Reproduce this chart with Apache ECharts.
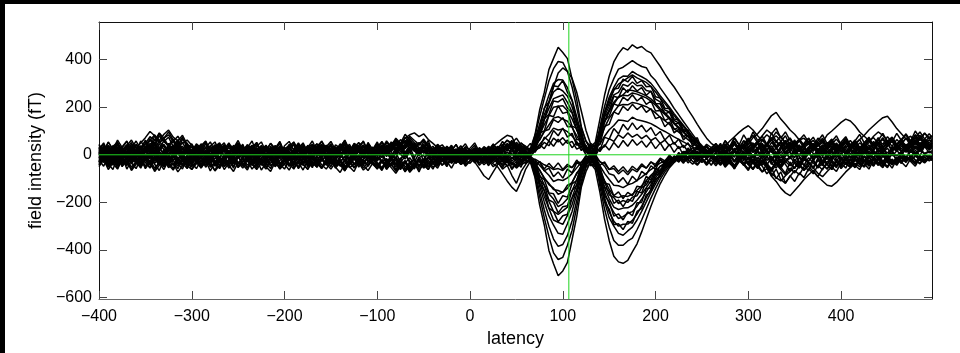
<!DOCTYPE html>
<html><head><meta charset="utf-8">
<script src="https://cdn.jsdelivr.net/npm/echarts@6/dist/echarts.min.js"></script>
<style>html,body{margin:0;padding:0;background:#000;width:960px;height:353px;overflow:hidden}
#c{position:absolute;left:5px;top:4px;width:955px;height:349px;background:#fff}</style>
</head><body><div id="c"></div><script>
// latency (ms)
const latency = [-400,-395,-390,-385,-380,-375,-370,-365,-360,-355,
-350,-345,-340,-335,-330,-325,-320,-315,-310,-305,
-300,-295,-290,-285,-280,-275,-270,-265,-260,-255,
-250,-245,-240,-235,-230,-225,-220,-215,-210,-205,
-200,-195,-190,-185,-180,-175,-170,-165,-160,-155,
-150,-145,-140,-135,-130,-125,-120,-115,-110,-105,
-100,-95,-90,-85,-80,-75,-70,-65,-60,-55,
-50,-45,-40,-35,-30,-25,-20,-15,-10,-5,
0,5,10,15,20,25,30,35,40,45,
50,55,60,65,70,75,80,85,90,95,
100,105,110,115,120,125,130,135,140,145,
150,155,160,165,170,175,180,185,190,195,
200,205,210,215,220,225,230,235,240,245,
250,255,260,265,270,275,280,285,290,295,
300,305,310,315,320,325,330,335,340,345,
350,355,360,365,370,375,380,385,390,395,
400,405,410,415,420,425,430,435,440,445,
450,455,460,465,470,475,480,485,490,495,498];

// field intensity per channel (fT)
const ch01 = [12,-18,25,4,-30,18,36,-8,22,-15, 30,8,42,15,-12,28,10,35,-5,20, -22,14,-30,6,26,-10,18,-28,12,32, 5,-20,24,-8,30,2,-26,16,38,-4, 20,-12,8,34,-18,10,28,-6,22,-24, 6,30,-14,18,-30,12,40,2,-16,24, -8,26,10,-22,32,16,-4,28,44,12, 36,8,-18,20,-6,14,-20,6,16,-10, 8,-12,14,2,-16,18,30,-6,24,40, 18,-4,
30,25,84,188,262,358,405,452,430,404,318,232,118,56,22,-4,-76,-112,-168,-180,-205,-192,-200,-178,-172,-138,-126,-90,-80,-48,-44,-18,-20,-2,-10,5,-8,12,-4,6,-12,
10,28,-6,34,18,42,4,26,-12,30, 20,48,12,-8,36,22,54,6,30,-14, 24,40,8,32,-10,18,46,14,36,2, 28,-6,38,20,50,10,32,-4,26,44, 16,38,22,48,30,52,40, 34];
const ch02 = [-14,10,-32,-6,20,-24,4,-38,-10,16, -20,6,-28,12,-40,-8,18,-16,2,-34, 10,-22,6,-36,-12,20,-30,-4,14,-26, -8,16,-30,2,-44,-14,8,-22,12,-38, -16,4,-34,-10,18,-28,-2,22,-20,-6, -30,-8,14,-24,6,-40,-12,16,-18,2, -26,8,-42,-14,10,-32,-6,12,-20,-48, -18,6,-36,-10,14,-22,2,-12,8,-20, -6,10,-14,4,-22,-8,16,-30,-12,6, -20,4,
-26,-30,-96,-210,-295,-402,-458,-508,-488,-452,-356,-260,-135,-70,-30,12,84,164,204,252,262,296,288,306,290,292,270,266,234,222,188,180,144,134,102,92,60,50,24,20,6,
-12,14,-24,8,-30,2,-18,20,-8,-36, -4,22,-20,10,-34,-6,16,-28,4,-16, 12,-22,6,-40,-10,18,-26,0,24,-14, 8,-30,14,-8,20,-20,4,-34,10,-2, 12,-10,18,2,24,6,16, 10];
const ch03 = [20,44,8,36,52,14,40,28,58,22, 48,76,60,92,70,84,56,78,48,62, 40,18,46,30,54,12,38,24,50,16, 34,10,42,26,-2,36,20,48,14,30, 8,40,22,50,18,34,4,28,44,12, 38,16,46,24,6,30,52,20,36,10, 32,56,26,44,64,38,58,72,50,40, 60,34,20,42,14,28,6,24,10,18, 4,20,-6,12,26,8,30,44,22,56, 40,28,
24,18,80,160,235,310,362,392,388,350,285,198,110,58,34,52,150,250,330,390,425,450,440,462,448,455,438,428,400,372,340,310,285,255,225,190,160,128,98,70,48,
34,22,40,18,46,30,58,44,72,88, 110,138,165,178,150,128,104,86,62,70, 48,60,36,52,28,44,66,40,58,32, 50,24,46,62,38,54,30,48,70,42, 56,36,60,44,68,50,62, 54];
const ch04 = [-30,-8,-46,-20,-56,-14,-38,4,-26,-50, -18,-40,-4,-34,-62,-22,-44,-12,-36,-58, -24,-6,-42,-16,-52,-30,-10,-40,-20,-48, -8,-34,-54,-22,-4,-38,-16,-46,-28,-60, -36,-12,-44,-26,-6,-50,-20,-32,-54,-14, -40,-18,-48,-28,-8,-42,-24,-56,-30,-10, -46,-22,-58,-36,-14,-52,-30,-66,-40,-20, -44,-62,-28,-48,-16,-36,-24,-8,-30,-18, -10,-26,-4,-20,-34,-12,-40,-22,-48,-30, -56,-36,
-6,-24,-88,-176,-264,-343,-412,-440,-431,-380,-317,-220,-123,-52,-36,-62,-158,-270,-360,-426,-450,-456,-444,-408,-374,-324,-270,-216,-167,-122,-86,-54,-32,-14,-2,-10,4,-12,2,-8,6,
-20,-42,-8,-36,-54,-18,-44,-28,-60,-38, -72,-58,-90,-112,-140,-160,-172,-150,-128,-104, -84,-66,-92,-58,-40,-62,-30,-50,-22,-44, -14,-36,-52,-24,-42,-10,-30,-48,-20,-38, -8,-26,-14,-32,-4,-20,-10, -16];
const ch05 = [10,30,-4,24,46,16,38,62,28,50, 72,98,80,60,86,104,74,58,82,44, 30,8,36,-6,22,42,14,32,4,26, 18,-10,24,40,6,28,-8,20,36,12, -2,26,10,32,-12,16,38,4,22,-6, 14,34,0,20,44,8,26,-10,18,30, 6,24,-8,36,18,2,28,46,20,8, 30,14,-4,22,6,34,12,-6,16,2, -8,10,18,-2,8,24,-10,14,36,20, 46,24,
3,-8,18,73,146,219,285,344,365,350,321,263,183,102,44,-20,-133,-228,-304,-360,-380,-380,-362,-350,-315,-274,-228,-182,-141,-103,-72,-46,-27,-11,-22,-14,6,-20,-4,10,-16,
8,-14,20,2,28,-6,16,34,10,24, 40,18,52,30,8,36,22,46,14,28, 4,32,16,42,24,0,20,38,12,30, 48,26,6,34,18,44,22,8,30,14, 36,20,42,28,50,32,44, 38];
const ch06 = [-4,20,-16,8,28,-10,14,-22,6,24, -12,10,30,-6,16,-20,4,26,-8,12, 22,-14,6,32,0,-18,16,36,10,-4, 18,38,8,-12,24,2,30,-16,14,34, 4,-20,20,40,12,-8,26,6,-14,22, 36,10,-6,28,14,44,20,-2,32,16, 40,24,52,34,60,46,70,84,92,76, 88,64,48,30,42,18,34,8,22,2, 16,-4,12,24,6,30,14,38,20,48, 26,10,
4,-19,-77,-154,-231,-300,-354,-385,-377,-339,-277,-193,-108,-48,-14,18,117,203,273,320,360,368,382,396,382,371,366,332,312,281,254,226,195,168,140,113,86,59,39,20,5,
24,2,30,12,-8,20,36,6,26,-4, 18,40,10,28,-2,22,44,14,32,4, 26,48,16,-6,24,38,8,30,50,20, 6,34,18,42,12,-4,28,46,16,36, 24,44,30,54,36,60,42, 48];
const ch07 = [6,-16,22,0,30,-10,16,38,8,26, 44,62,36,80,54,40,66,30,50,20, 4,28,-8,18,36,10,-12,24,2,32, -6,14,34,6,-14,20,40,12,-4,26, 10,36,0,22,44,16,-8,30,8,38, 20,-2,26,12,34,-6,18,42,6,28, 14,32,4,40,22,50,30,58,36,16, 42,20,4,28,10,36,18,0,24,8, 14,-6,20,4,12,28,2,36,16,44, 30,12,
-5,16,64,128,192,250,300,316,314,282,230,160,90,32,26,42,104,179,242,283,318,331,330,350,338,328,317,300,276,248,224,200,173,148,124,100,76,52,35,17,6,
20,40,14,32,50,26,44,18,38,56, 30,48,22,60,36,54,28,46,64,40, 58,34,70,52,84,100,118,136,150,142, 122,96,78,60,72,48,64,40,56,34, 50,28,46,62,38,58,44, 52];
const ch08 = [-36,-14,-44,-22,-6,-40,-18,-52,-28,-10, -32,-56,-20,-42,-8,-36,-24,-48,-12,-38, -50,-26,-8,-44,-16,-34,-58,-22,-40,-14, -30,-48,-12,-36,-54,-20,-42,-6,-32,-50, -18,-38,-60,-26,-44,-10,-34,-52,-20,-40, -12,-46,-28,-58,-32,-16,-40,-24,-48,-8, -34,-54,-22,-44,-62,-30,-48,-70,-40,-26, -56,-36,-18,-42,-24,-6,-32,-14,-38,-20, -8,-28,-14,-34,-20,-2,-24,-40,-16,-44, -30,-52,
2,-17,-66,-132,-198,-257,-296,-330,-334,-290,-238,-165,-92,-33,-28,-44,-116,-198,-264,-300,-330,-338,-320,-304,-274,-238,-198,-158,-122,-89,-63,-40,-23,-10,-18,-8,10,-4,12,-6,8,
-14,-34,-6,-26,-44,-18,-38,-8,-30,-50, -22,-42,-12,-36,-56,-28,-46,-20,-40,-62, -48,-70,-92,-110,-128,-132,-116,-94,-72,-54, -36,-50,-24,-42,-14,-32,-48,-20,-38,-10, -26,-6,-22,-36,-12,-28,-8, -18];
const ch09 = [26,4,34,12,-8,22,40,6,18,-12, 10,30,-4,24,44,14,-10,20,36,2, 16,-6,28,8,38,-2,20,42,12,-14, 24,6,32,-8,16,36,2,26,-10,14, 30,10,-6,22,4,40,18,-4,28,8, -8,20,36,6,24,-12,14,32,0,22, 38,12,28,-2,18,34,10,26,48,30, 14,36,8,24,-4,18,2,12,-8,6, 20,2,-8,16,6,-12,22,10,30,-2, 14,36,
6,14,56,112,168,218,264,280,268,246,202,140,78,28,18,-14,-105,-180,-240,-279,-300,-292,-291,-276,-249,-216,-180,-144,-111,-81,-57,-36,-21,-9,14,12,-6,16,-10,4,18,
30,8,36,58,76,94,110,122,104,80, 60,42,66,38,54,26,48,16,36,6, 28,44,12,34,-2,24,40,10,30,46, 18,36,4,28,44,14,32,-4,22,40, 12,30,16,38,22,42,28, 34];
const ch10 = [-22,2,-30,-8,14,-18,6,-34,-12,10, -26,-4,18,-20,4,-38,-10,12,-24,-2, 8,-28,-6,16,-16,0,-36,-14,6,-22, -4,14,-26,-8,10,-32,-12,4,-20,12, -30,-10,8,-24,-2,16,-18,-36,-6,2, -14,6,-28,-8,12,-22,0,-34,-12,10, -20,4,-30,-6,-40,-16,2,-26,-48,-10, -32,-14,6,-22,-2,-38,-16,4,-18,-6, 2,-14,8,-6,-20,6,-28,-10,12,-16, -2,-24,
-4,-15,-58,-116,-174,-226,-274,-284,-292,-255,-209,-145,-81,-29,-20,10,99,172,231,271,297,310,323,336,323,314,304,287,264,238,215,191,165,142,119,96,73,50,33,17,-14,
-10,12,-18,4,-26,8,-14,18,-6,-30, -4,16,-20,2,-32,10,-12,22,-8,-24, 6,-16,14,-28,-2,20,-12,8,-22,4, -14,10,-26,2,16,-8,12,-20,6,-4, 8,-12,14,-2,18,4,12, 6];
const ch11 = [2,24,-10,16,34,8,-14,20,30,0, 18,36,10,46,22,4,30,12,-6,26, 34,10,22,-8,14,32,4,24,40,16, -2,28,12,36,6,20,-10,30,10,38, 16,-6,24,4,32,14,42,20,-4,26, 8,30,16,40,2,22,34,12,28,4, 24,42,18,54,36,64,48,78,60,44, 66,38,26,12,30,4,20,14,28,8, 22,6,14,28,10,20,36,18,48,30, 52,34,
0,12,50,100,150,195,236,244,252,220,180,125,70,25,30,36,81,140,189,221,243,252,272,270,265,257,248,235,216,194,176,157,135,116,97,78,59,41,27,14,18,
10,28,4,34,16,40,22,46,12,30, 48,20,38,8,32,50,18,42,26,6, 34,14,44,24,52,30,10,36,56,28, 46,64,82,104,122,140,156,162,138,110, 88,66,78,56,70,50,62, 58];
const ch12 = [-10,-32,-2,-24,-46,-16,-38,-6,-28,-50, -20,-4,-36,-12,-44,-26,-8,-40,-18,-52, -30,-10,-42,-22,-4,-34,-14,-48,-26,-6, -38,-18,-56,-28,-8,-44,-20,-36,-12,-46, -24,-6,-34,-50,-16,-30,-2,-42,-22,-38, -14,-40,-20,-52,-28,-10,-36,-18,-46,-26, -8,-30,-16,-44,-22,-58,-34,-12,-40,-20, -46,-24,-6,-30,-14,-36,-20,-2,-26,-10, -18,-4,-22,-10,-28,-14,-34,-20,-6,-38, -48,-26,
0,-12,-50,-100,-150,-195,-238,-250,-236,-220,-180,-125,-70,-25,-40,-50,-91,-156,-208,-242,-268,-260,-246,-239,-216,-187,-156,-125,-96,-70,-49,-31,-18,-8,-28,-12,6,-18,-2,-14,4,
-24,-8,-36,-16,-46,-28,-10,-40,-20,-54, -32,-54,-78,-96,-110,-88,-70,-52,-40,-66, -44,-22,-56,-34,-12,-46,-26,-58,-36,-16, -42,-24,-6,-34,-18,-44,-28,-10,-38,-20, -30,-12,-26,-6,-20,-34,-14, -22];
const ch13 = [16,-6,28,8,-14,20,2,32,12,-4, 24,42,14,30,6,36,18,54,26,10, -2,22,10,-12,18,34,6,26,-8,14, 30,4,20,38,12,-6,24,8,32,16, 0,26,12,34,-2,18,30,6,22,40, 12,-4,28,16,36,4,24,10,30,-6, 20,36,8,30,48,22,40,56,32,14, 34,18,2,26,8,30,12,22,4,16, 10,24,0,16,30,14,4,26,42,20, 10,30,
4,10,42,84,126,164,200,204,206,185,151,105,59,21,12,30,78,135,182,213,242,250,248,260,255,247,239,226,208,187,169,151,130,112,94,75,57,39,26,13,24,
14,32,6,26,44,18,36,8,30,48, 22,40,64,80,58,34,50,24,42,12, 30,46,20,38,8,28,50,22,40,60, 34,18,42,26,56,36,14,40,62,30, 48,24,44,60,34,52,40, 46];
const ch14 = [-18,4,-26,-10,10,-34,-14,2,-22,-40, -8,-28,6,-18,-36,-4,-24,8,-30,-12, 0,-20,-38,-10,6,-26,-44,-16,2,-30, -12,4,-22,-40,-6,-28,8,-18,-34,-2, -24,-42,-8,-20,4,-32,-14,-46,-24,-6, -30,-12,2,-26,-44,-16,-34,0,-20,-38, -10,-28,-50,-22,-40,-14,-62,-36,-18,-44, -26,-8,-32,-14,0,-22,-6,-28,-12,-2, -16,2,-20,-6,-26,-12,4,-18,-32,-10, -28,-8,
-2,-10,-42,-84,-126,-164,-186,-218,-206,-185,-151,-105,-59,-21,-10,-32,-81,-138,-184,-220,-230,-224,-223,-212,-191,-166,-138,-110,-85,-62,-44,-28,-16,-7,8,10,-6,14,-12,4,-8,
-18,2,-24,-6,-30,-10,6,-20,-36,-12, -28,-4,-40,-16,-50,-24,-8,-36,-56,-20, -34,-56,-78,-92,-70,-50,-30,-40,-18,-6, -26,-10,-32,0,-20,-6,-28,-14,2,-18, -4,-22,-8,6,-14,0,-10, -6];
const ch15 = [-26,-4,14,-18,6,24,-10,12,-22,4, 18,-6,30,8,-16,22,40,10,-4,28, 6,-18,16,0,-24,12,26,-8,18,-14, 10,28,-4,14,-20,6,24,-12,2,20, -8,16,-2,22,8,-16,12,30,0,-10, 24,4,-12,18,34,2,-8,20,6,26, 0,18,34,12,42,24,8,30,16,-4, 20,0,14,-10,8,-16,4,18,-6,10, -4,12,-14,6,18,-2,10,-20,-6,14, 4,-10,
-6,8,32,64,96,125,154,160,150,141,115,80,45,16,40,6,-63,-108,-144,-174,-180,-172,-175,-166,-149,-130,-108,-86,-67,-49,-34,-22,-13,-5,-12,8,-10,4,-16,6,-6,
6,-12,16,-4,22,-20,8,26,-8,14, -16,4,20,-6,30,10,-14,18,-2,24, 8,-10,28,2,16,-18,12,32,0,18, -8,14,26,4,-12,20,6,28,-4,16, 2,20,10,28,14,34,22, 26];
const ch16 = [6,-14,20,-2,-24,10,-8,26,0,-18, 14,-4,22,-12,8,-26,4,18,-10,12, -20,2,-8,16,-14,6,-30,-6,14,-2, 20,-10,8,-22,4,16,-16,2,-28,10, -6,14,-18,6,-12,22,-4,-24,8,-8, 12,-16,4,-28,10,-6,18,-14,2,-20, 8,-10,16,-4,26,2,-18,12,30,6, 16,-6,10,-18,2,-12,8,-22,-4,6, -10,4,-6,10,-14,-2,14,-16,2,-26, -12,6,
2,-8,-32,-64,-96,-125,-140,-166,-157,-141,-115,-80,-45,-16,-34,-6,66,114,154,180,206,211,210,220,216,209,202,191,176,158,143,128,110,95,79,64,48,33,22,11,-10,
8,-10,14,-4,20,2,-16,10,26,-2, 16,-8,22,4,-14,12,28,0,18,-6, 24,6,-12,14,32,10,-4,20,4,26, 10,-8,16,30,2,22,8,-6,18,34, 14,28,10,32,18,36,24, 30];
const ch17 = [30,10,38,18,46,22,2,28,14,36, 20,48,26,56,34,12,40,24,6,32, 16,36,8,28,-2,22,42,14,30,4, 26,6,34,18,44,12,-6,20,38,10, 24,40,2,18,32,8,26,46,16,30, 4,22,38,14,28,-4,18,34,10,24, 34,12,30,46,20,38,26,52,14,32, 6,26,12,32,18,-2,14,24,2,20, 12,28,6,20,-4,14,32,16,40,24, 36,18,
14,6,22,44,66,86,112,104,108,97,79,55,31,11,48,34,45,78,105,123,146,144,140,158,147,143,138,131,120,108,98,87,75,65,54,44,33,23,15,8,30,
22,40,14,34,52,26,44,70,38,56, 30,48,72,54,36,60,28,46,20,38, 54,32,48,16,36,58,30,44,66,40, 28,50,34,62,46,24,40,58,36,64, 44,70,52,84,60,90,72, 80];
const ch18 = [-40,-18,-52,-30,-8,-44,-26,-60,-34,-12, -48,-24,-56,-36,-14,-42,-64,-28,-46,-20, -36,-58,-22,-44,-10,-38,-52,-26,-48,-16, -54,-30,-12,-40,-62,-34,-20,-46,-28,-56, -24,-48,-36,-8,-42,-58,-30,-50,-18,-38, -60,-32,-46,-22,-54,-40,-16,-44,-66,-36, -50,-28,-58,-38,-70,-46,-26,-54,-34,-62, -44,-24,-52,-36,-14,-40,-26,-8,-32,-18, -12,-30,-58,-88,-104,-72,-40,-24,-46,-30, -52,-34,
-20,-6,-22,-44,-66,-86,-112,-104,-108,-97,-79,-55,-31,-11,-46,-36,-46,-78,-104,-128,-130,-138,-126,-120,-108,-94,-78,-62,-48,-35,-25,-16,-9,-4,-30,-20,-6,-28,-14,-34,-10,
-26,-44,-16,-36,-54,-24,-42,-10,-32,-50, -20,-40,-58,-30,-48,-14,-38,-56,-26,-44, -12,-34,-52,-22,-40,-6,-30,-46,-18,-36, -50,-24,-8,-32,-16,-38,-4,-26,-42,-14, -30,-10,-24,-2,-18,-28,-12, -20];
const ch19 = [-8,14,-20,4,22,-12,8,30,-2,16, 36,12,50,24,60,34,18,44,8,26, -6,18,32,2,-14,20,6,28,-10,12, 24,-4,14,32,0,18,-12,10,26,4, 16,34,-2,20,8,-10,24,36,6,18, -4,14,28,0,20,38,10,-8,22,6, 26,8,36,18,44,28,10,40,22,4, 30,16,0,20,6,24,-4,12,28,10, 18,2,22,10,-4,36,52,68,82,76, 36,12,
20,-4,18,30,52,38,70,54,72,48,56,24,34,0,14,-6,30,34,68,56,84,70,92,74,86,68,82,60,72,48,62,38,52,26,40,14,30,2,20,-6,12,
28,6,36,14,46,20,60,32,50,24, 62,84,66,96,74,52,70,40,58,30, 46,18,38,60,26,48,12,34,56,20, 42,64,30,52,78,96,82,58,74,44, 62,36,54,72,46,66,50, 60];
const ch20 = [-30,-6,-38,-16,4,-24,-46,-12,-34,0, -20,-42,-8,-28,-50,-18,-4,-36,-22,-44, -10,-32,-54,-26,-6,-40,-18,-48,-30,-2, -36,-14,-44,-24,-4,-32,-52,-20,-8,-38, -16,-46,-28,2,-34,-12,-42,-22,-56,-26, -8,-38,-20,-50,-30,-6,-40,-18,-2,-32, -44,-22,-62,-36,-12,-48,-28,-66,-40,-20, -32,-50,-16,-36,-4,-24,-10,-30,-14,-22, -6,-20,-2,-14,-26,-38,-52,-80,-110,-136, -154,-112,
-60,-28,-18,-30,-42,-50,-62,-58,-66,-48,-54,-30,-32,-4,-16,2,-30,-36,-62,-58,-80,-64,-84,-60,-72,-46,-56,-30,-40,-14,-26,-2,-20,6,-12,10,-8,14,-16,4,-10,
-16,-36,-8,-30,-50,-22,-44,-12,-34,-58, -26,-48,-70,-40,-62,-84,-56,-76,-46,-64, -34,-54,-20,-42,-60,-28,-48,-14,-38,-52, -22,-40,-6,-30,-46,-18,-36,-8,-26,-44, -14,-32,-4,-22,-38,-10,-24, -16];
const ch21 = [34,-12,40,2,46,-18,28,52,-6,30, 58,14,66,32,-4,48,20,60,8,42, -10,36,4,50,-14,26,44,-8,38,12, 48,-6,30,58,6,40,-12,34,16,54, 2,44,-16,28,50,10,-8,36,56,14, 40,-10,24,52,0,36,18,-12,46,22, 54,8,42,20,62,30,74,46,18,52, 28,60,4,38,-8,32,14,44,-2,24, 8,30,-6,22,4,36,-4,40,18,50, 12,38,
28,10,58,84,150,170,226,222,236,196,176,104,78,10,24,42,86,178,216,276,280,318,306,330,300,312,286,288,244,238,196,194,150,146,106,100,60,58,24,36,8,
30,-2,44,16,56,6,38,62,20,48, 4,40,66,24,52,-6,34,58,12,46, 70,28,54,2,42,64,18,50,-4,36, 60,22,48,8,40,72,30,56,14,44, 66,26,52,84,40,62,30, 50];
const ch22 = [-44,4,-38,-62,-10,-50,8,-34,-58,-16, -52,-6,-40,-66,-20,-48,2,-36,-60,-12, -46,-2,-54,-24,-68,-30,-8,-50,-18,-56, -4,-42,-64,-22,-48,6,-36,-58,-14,-40, -60,-18,-46,0,-38,-62,-26,-52,-8,-44, -20,-56,-32,-6,-50,-70,-28,-46,-2,-40, -58,-24,-48,-12,-64,-36,-72,-44,-16,-54, -30,-62,-10,-40,-22,-50,-4,-34,-18,-42, -24,-6,-36,-14,-46,-2,-30,-54,-20,-62, -38,-12,
-20,-34,-40,-106,-128,-190,-200,-244,-218,-214,-150,-128,-52,-40,-6,-48,-96,-196,-228,-294,-290,-314,-280,-288,-238,-226,-168,-156,-100,-92,-46,-50,-14,-30,4,-22,-40,-8,-32,-16,-44,
-12,-40,6,-28,-54,-4,-36,-60,-18,-46, -2,-34,-66,-20,-52,-78,-30,-58,-10,-44, -68,-24,-50,-6,-40,-62,-16,-48,0,-32, -54,-14,-38,-60,-22,-44,-2,-30,-56,-18, -36,-8,-28,-48,-12,-32,-4, -20];
const ch23 = [0,38,-22,26,-40,14,42,-16,20,-34, 32,-8,46,10,-26,38,2,50,-18,24, -36,8,40,-14,22,-42,16,34,-20,6, 44,-10,18,-38,28,4,-30,36,-6,30, -24,20,46,-12,10,-40,26,-4,40,-28, 14,-32,36,2,-20,30,-44,18,44,-8, 22,-36,40,10,-18,52,4,34,-12,28, -30,24,-6,36,-22,12,40,-14,18,-38, 10,-20,26,-8,16,-26,30,4,-16,34, -12,22,
-18,26,24,92,100,166,160,206,174,180,120,112,34,36,-10,-40,-76,-172,-196,-258,-248,-274,-240,-256,-202,-200,-142,-140,-82,-86,-34,-46,-6,-24,14,-20,10,-30,4,-16,20,
-22,18,-34,8,-10,30,-26,12,-40,20, -8,26,-30,4,-50,14,-18,32,-44,0, 22,-28,10,-38,16,-12,34,-24,6,-46, 18,-6,28,-32,12,-20,38,-10,24,-36, 4,30,-14,20,-4,36,8, 18];
const ch24 = [20,-24,8,-44,14,-10,36,-30,4,-20, 28,-16,12,-36,24,-6,40,-22,18,-42, 6,-32,26,-8,-48,16,-18,30,-4,-38, 10,34,-14,22,-30,2,38,-24,14,-12, 32,-20,8,-40,20,-8,28,-34,12,36, -18,22,-6,30,-36,10,-22,40,-2,-28, 16,-12,34,-26,6,44,-10,22,-32,8, 38,-4,18,-30,10,-16,26,-8,14,-24, 4,-14,18,-4,-24,10,-18,20,-8,30, -22,10,
12,-22,-20,-90,-104,-160,-164,-204,-172,-178,-122,-108,-40,-30,8,34,70,160,184,246,240,282,262,290,268,282,250,268,216,214,172,180,130,132,96,104,60,72,20,38,4,
26,-10,34,-18,14,40,-4,22,-28,18, 44,2,30,-16,24,50,8,-12,36,-2, 16,46,-8,28,-20,38,12,52,-6,20, 40,6,32,-14,26,48,10,-4,34,18, 50,14,38,-2,30,52,24, 36];
const ch25 = [40,16,52,24,-4,34,58,10,44,20, 62,30,80,48,70,36,56,22,66,42, 14,46,28,-2,36,54,12,42,6,30, 50,22,-8,32,48,18,38,2,28,56, 8,36,52,14,-6,30,44,20,58,26, 46,4,34,60,24,10,40,54,16,32, 2,28,50,38,60,24,46,64,30,12, 44,20,36,8,30,-4,22,42,12,34, 18,40,4,28,14,44,24,56,32,60, 28,48,
36,18,44,62,100,106,148,136,156,118,118,64,62,22,30,40,64,144,162,214,206,242,228,252,226,242,212,226,184,186,144,154,106,116,74,92,44,62,20,44,30,
46,20,58,32,70,40,84,52,96,60, 78,44,66,30,56,80,38,62,24,48, 70,36,58,84,46,66,28,54,76,40, 62,30,50,74,38,60,90,54,72,42, 64,88,58,100,70,92,66, 78];
const ch26 = [-22,-48,-6,-36,-60,-18,-42,-2,-30,-56, -14,-40,-64,-26,-50,-8,-34,-58,-20,-46, -62,-28,-52,-12,-40,-66,-24,-4,-44,-70, -32,-56,-16,-44,-2,-38,-60,-22,-48,-10, -40,-64,-28,-54,-14,-46,-6,-36,-58,-24, -50,-12,-42,-68,-30,-54,-18,-40,-4,-34, -60,-26,-48,-16,-38,-62,-30,-74,-50,-24, -52,-34,-60,-20,-44,-8,-36,-16,-40,-26, -36,-14,-44,-24,-8,-32,-18,-46,-28,-54, -40,-20,
-36,-16,-44,-64,-100,-120,-146,-150,-158,-128,-118,-76,-58,-32,-20,-44,-66,-136,-152,-204,-190,-218,-186,-196,-154,-160,-110,-118,-70,-80,-36,-46,-10,-30,-4,-34,-12,-40,-18,-44,-22,
-46,-20,-52,-30,-60,-14,-42,-66,-28,-50, -72,-38,-90,-60,-104,-120,-88,-112,-76,-96, -58,-80,-44,-64,-26,-52,-70,-34,-56,-18, -44,-62,-24,-48,-8,-36,-54,-20,-42,-12, -30,-50,-16,-38,-6,-26,-12, -24];
const ch27 = [8,32,-14,20,44,-2,26,-20,14,38, -8,30,54,16,40,-6,24,48,4,34, 18,-12,36,6,-22,28,46,10,-16,22, 40,12,-10,30,50,2,20,-18,36,8, -14,24,42,-4,18,36,-20,14,32,0, 28,-8,20,44,6,-16,34,12,46,-6, 18,40,-2,26,52,10,36,62,24,6, 34,-6,22,0,28,10,-14,20,4,30, -4,16,-12,24,2,-18,14,32,-8,26, 8,-14,
10,2,70,108,196,222,290,286,312,262,228,138,100,16,-6,30,44,120,128,180,170,204,186,212,190,206,178,194,152,160,118,138,92,108,62,82,36,56,14,34,12,
22,48,4,36,58,16,44,-4,30,52, 12,40,64,26,50,6,34,56,18,42, 0,28,50,14,38,60,22,46,8,32, 54,16,40,-2,28,50,12,36,62,24, 44,10,36,56,22,46,28, 40];
const ch28 = [-12,20,-30,-2,-46,10,-24,28,-16,-40, 4,-34,18,-20,-50,-8,22,-28,-4,-44, 14,-22,-46,6,-32,24,-12,-38,10,-26, -48,-6,26,-18,-36,12,-28,2,-42,16, -20,8,-40,-10,20,-30,-54,-4,22,-16, 10,-36,-14,24,-26,-2,-44,14,-32,4, -26,16,-38,-6,-52,-20,8,-34,-60,-12, -2,-40,-16,12,-28,6,-20,-36,-8,14, -18,4,-10,-28,-4,12,-22,6,-34,-14, 0,-30,
6,-28,-46,-120,-150,-224,-238,-282,-256,-250,-182,-150,-64,-44,14,-34,-48,-120,-124,-172,-156,-184,-158,-172,-132,-136,-90,-106,-56,-72,-26,-44,-4,-26,12,-16,20,-10,16,-20,8,
-20,6,-32,-10,14,-26,-4,-40,0,-18, 10,-24,-6,-42,2,-30,-12,16,-36,-8, -28,4,-16,-44,-2,-22,12,-34,-10,-48, -6,10,-24,-40,-12,8,-30,-2,-38,-16, 4,-20,-6,10,-26,-2,-12, -8];
const ch29 = [24,50,6,38,-8,30,56,14,42,0, 34,60,84,52,70,96,62,40,74,28, 46,12,38,58,20,-4,32,50,8,40, 18,44,-6,28,52,10,36,-2,26,48, 4,30,54,16,38,-10,22,46,12,34, 56,20,-4,32,8,42,26,58,14,-2, 30,52,18,40,10,34,60,22,44,2, 26,48,14,-6,32,18,38,4,24,46, 12,-6,30,14,36,20,-2,40,60,44, 22,50,
30,12,40,28,74,58,102,80,112,74,90,40,52,14,22,-10,-28,-48,-80,-86,-116,-96,-124,-90,-110,-70,-84,-46,-62,-20,-40,-2,-26,10,-12,24,-4,30,8,36,14,
38,10,46,24,56,18,40,64,30,52, 80,104,88,112,70,96,60,44,68,36, 54,22,48,70,34,58,16,42,66,28, 50,14,36,60,26,48,72,40,58,20, 46,70,38,60,82,54,74, 64];
const ch30 = [-32,2,-50,-18,-42,-6,-60,-24,-8,-46, -20,-54,-12,-38,4,-30,-58,-16,-44,-2, -40,-14,-56,-28,-6,-48,-22,-62,-34,-10, -52,-26,-4,-44,-18,-64,-36,-12,-50,-24, -6,-40,-16,-58,-30,-2,-46,-20,-54,-34, -14,-48,-28,-66,-38,-10,-52,-24,-44,-4, -36,-60,-18,-46,-8,-40,-70,-28,-54,-22, -44,-12,-36,-56,-20,-42,-6,-32,-16,-48, -26,-8,-34,-14,-42,-20,-4,-30,-12,-38, -18,-44,
-30,-14,-38,-30,-68,-56,-92,-72,-98,-60,-76,-34,-44,-4,-18,22,18,74,66,110,88,128,104,134,106,124,96,114,80,98,62,82,44,66,30,50,12,36,-4,22,-10,
-30,-6,-42,-16,-52,-24,-2,-38,-60,-20, -44,-8,-34,-56,-18,-40,-70,-28,-50,-12, -36,-58,-22,-46,-4,-32,-54,-14,-40,-24, -2,-28,-48,-10,-36,-20,-44,-6,-30,-16, -34,-8,-22,-40,-14,-28,-6, -18];
const ch31 = [44,10,54,22,62,30,4,46,16,58, 26,68,38,90,56,74,34,64,20,50, 8,40,24,56,-2,34,50,14,44,28, 60,18,42,4,36,54,12,48,26,-4, 38,56,20,46,2,30,58,16,40,24, 6,42,28,62,14,48,36,0,52,22, 46,24,58,34,70,48,86,62,40,18, 54,32,10,44,24,-2,30,14,38,6, 28,50,12,34,20,46,8,38,62,48, 70,40,
24,48,10,42,26,58,36,66,40,62,30,52,18,40,6,34,14,42,20,52,30,60,36,64,40,58,32,56,26,50,18,44,10,36,-2,28,8,40,14,32,20,
48,22,60,34,72,44,26,58,82,50, 66,40,92,56,78,46,70,30,62,84, 52,74,38,64,24,56,80,42,68,32, 58,86,50,70,36,62,44,76,54,90, 60,84,48,72,96,66,88, 74];
const ch32 = [-50,-20,-62,-34,-8,-48,-26,-66,-40,-14, -58,-30,-70,-44,-18,-54,-36,-72,-46,-22, -62,-38,-12,-52,-28,-68,-44,-20,-56,-32, -6,-46,-24,-60,-36,-14,-50,-70,-30,-58, -40,-16,-54,-32,-64,-22,-48,-8,-42,-60, -28,-52,-74,-38,-20,-56,-34,-64,-46,-18, -42,-66,-30,-54,-78,-48,-24,-60,-36,-72, -26,-50,-38,-14,-44,-28,-56,-20,-40,-30, -10,-34,-18,-42,-24,-50,-32,-60,-44,-86, -120,-70,
-40,-18,-52,-28,-60,-36,-58,-34,-62,-40,-54,-22,-48,-16,-38,-12,-44,-30,-62,-46,-70,-50,-74,-48,-64,-38,-56,-30,-48,-18,-40,-8,-32,-14,-36,-6,-28,-44,-20,-38,-12,
-38,-12,-46,-24,-58,-30,-6,-42,-62,-26, -48,-80,-56,-100,-72,-118,-90,-66,-84,-50, -30,-54,-14,-40,-60,-22,-46,-8,-34,-52, -20,-42,-4,-28,-48,-12,-36,-54,-18,-40, -10,-30,-2,-22,-36,-8,-26, -14];

const xTicks = [-400,-300,-200,-100,0,100,200,300,400];
const yTicks = [-600,-400,-200,0,200,400];
const xMin = -400, xMax = 498, yMin = -606, yMax = 558;
const cursorLatency = 106.5;
const baselineValue = 0;

const channels = [ch01,ch02,ch03,ch04,ch05,ch06,ch07,ch08,ch09,ch10,ch11,ch12,ch13,ch14,ch15,ch16,
                  ch17,ch18,ch19,ch20,ch21,ch22,ch23,ch24,ch25,ch26,ch27,ch28,ch29,ch30,ch31,ch32];
const FONT = '"Liberation Sans", Arial, Helvetica, sans-serif';
const fmt = v => v < 0 ? '\u2212' + Math.abs(v) : String(v);
const GREEN = '#1fd31f';

const series = channels.map(ch => {
  const n = Math.min(ch.length, latency.length);
  const data = [];
  for (let i = 0; i < n; i++) data.push([latency[i], ch[i]]);
  return {
    type: 'line', data, showSymbol: false, symbol: 'none', silent: true,
    lineStyle: { color: '#000', width: 1.5 }, z: 2, animation: false
  };
});
series.push({
  type: 'line', silent: true, animation: false, z: 6, showSymbol: false, symbol: 'none',
  data: [[xMin, baselineValue], [xMax, baselineValue]],
  lineStyle: { color: GREEN, width: 1 }, itemStyle: { color: GREEN }
});
series.push({
  type: 'line', silent: true, animation: false, z: 6, showSymbol: false, symbol: 'none',
  data: [[cursorLatency, yMin], [cursorLatency, yMax]],
  lineStyle: { color: GREEN, width: 1 }, itemStyle: { color: GREEN }
});

const chart = echarts.init(document.getElementById('c'), null, { renderer: 'canvas' });
chart.setOption({
  animation: false,
  backgroundColor: '#fff',
  grid: { left: 94, top: 18, right: 28, bottom: 54 },
  xAxis: [{
    type: 'value', position: 'bottom', min: xMin, max: xMax,
    axisLine: { show: true, onZero: false, lineStyle: { color: '#666', width: 1 } },
    axisTick: { show: true, inside: true, length: 8, customValues: xTicks, lineStyle: { color: '#444' } },
    axisLabel: { customValues: xTicks, formatter: fmt, fontSize: 16, color: '#000', fontFamily: FONT, margin: 10 },
    splitLine: { show: false },
    name: 'latency', nameLocation: 'middle', nameGap: 30,
    nameTextStyle: { fontSize: 18, color: '#000', fontFamily: FONT }
  }, {
    type: 'value', position: 'top', min: xMin, max: xMax,
    axisLine: { show: true, onZero: false, lineStyle: { color: '#111', width: 1 } },
    axisTick: { show: true, inside: true, length: 8, customValues: xTicks, lineStyle: { color: '#444' } },
    axisLabel: { show: false }, splitLine: { show: false }
  }],
  yAxis: [{
    type: 'value', position: 'left', min: yMin, max: yMax,
    axisLine: { show: true, onZero: false, lineStyle: { color: '#111', width: 1 } },
    axisTick: { show: true, inside: true, length: 8, customValues: yTicks, lineStyle: { color: '#444' } },
    axisLabel: { customValues: yTicks, formatter: fmt, fontSize: 16, color: '#000', fontFamily: FONT, margin: 7 },
    splitLine: { show: false },
    name: 'field intensity (fT)', nameLocation: 'middle', nameGap: 54, nameRotate: 90,
    nameTextStyle: { fontSize: 18, color: '#000', fontFamily: FONT }
  }, {
    type: 'value', position: 'right', min: yMin, max: yMax,
    axisLine: { show: true, onZero: false, lineStyle: { color: '#111', width: 1 } },
    axisTick: { show: true, inside: true, length: 8, customValues: yTicks, lineStyle: { color: '#444' } },
    axisLabel: { show: false }, splitLine: { show: false }
  }],
  series
});
</script></body></html>
